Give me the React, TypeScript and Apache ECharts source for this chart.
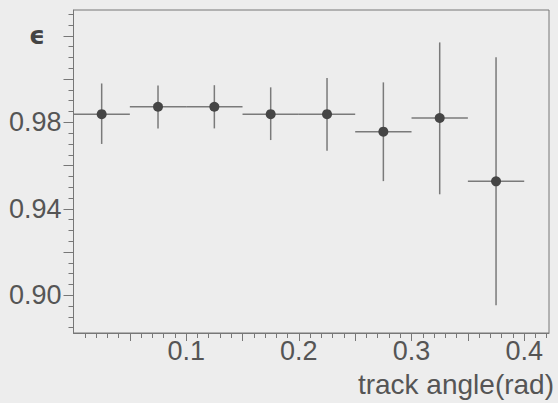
import React, { useEffect, useRef } from "react";
import * as echarts from "echarts";

// Bin edges (track angle, rad)
const binLow = [0.0, 0.05, 0.1, 0.15, 0.2, 0.25, 0.3, 0.35];
const binHigh = [0.05, 0.1, 0.15, 0.2, 0.25, 0.3, 0.35, 0.4];
const binCenter = [0.025, 0.075, 0.125, 0.175, 0.225, 0.275, 0.325, 0.375];
// Efficiency and error bar ends
const efficiency = [0.9838, 0.9872, 0.9872, 0.9838, 0.9838, 0.9757, 0.982, 0.9527];
const errHigh = [0.998, 0.997, 0.9972, 0.9962, 1.0005, 0.9985, 1.017, 1.0101];
const errLow = [0.970, 0.9772, 0.9772, 0.9718, 0.9669, 0.9528, 0.9467, 0.8954];

const yTickValues = [0.9, 0.92, 0.94, 0.96, 0.98, 1.0, 1.02];
const yLabelValues = [0.9, 0.94, 0.98];
const xTickValues = [0.05, 0.1, 0.15, 0.2, 0.25, 0.3, 0.35, 0.4];
const xLabelValues = [0.1, 0.2, 0.3, 0.4];

const xTitle = "track angle(rad)";
const yTitle = "ϵ";

export default function App() {
  const ref = useRef<HTMLDivElement>(null);
  useEffect(() => {
    document.body.style.margin = "0";
    const chart = echarts.init(ref.current!, null, { renderer: "svg" });
    const data = binCenter.map((c, i) => [c, efficiency[i], errLow[i], errHigh[i], binLow[i], binHigh[i]]);
    const textColor = "#555";
    const lineColor = "#777";
    chart.setOption({
      animation: false,
      backgroundColor: "#ededed",
      grid: {
        left: 73.5,
        right: 9,
        top: 10,
        bottom: 70,
        show: true,
        borderColor: lineColor,
        borderWidth: 1,
        backgroundColor: "transparent",
      },
      xAxis: {
        type: "value",
        min: 0,
        max: 0.422,
        interval: 0.05,
        axisLine: { show: true, lineStyle: { color: lineColor, width: 1 } },
        axisTick: { show: true, length: 8, customValues: xTickValues, lineStyle: { color: lineColor } },
        minorTick: { show: true, splitNumber: 5, length: 5, lineStyle: { color: lineColor } },
        splitLine: { show: false },
        axisLabel: {
          customValues: xLabelValues,
          formatter: (v: number) => String(Math.round(v * 10) / 10),
          color: textColor,
          fontFamily: "Liberation Sans",
          fontSize: 27,
          margin: 4,
        },
      },
      yAxis: {
        type: "value",
        min: 0.8825,
        max: 1.032,
        minInterval: 0.02,
        maxInterval: 0.02,
        axisLine: { show: true, lineStyle: { color: lineColor, width: 1 } },
        axisTick: { show: true, length: 10, customValues: yTickValues, lineStyle: { color: lineColor } },
        minorTick: { show: true, splitNumber: 4, length: 5, lineStyle: { color: lineColor } },
        splitLine: { show: false },
        axisLabel: {
          customValues: yLabelValues,
          formatter: (v: number) => v.toFixed(2),
          color: textColor,
          fontFamily: "Liberation Sans",
          fontSize: 27,
          margin: 12,
        },
      },
      graphic: [
        {
          type: "text",
          left: 29,
          top: 23,
          style: {
            text: yTitle,
            fill: "#444",
            font: "bold 25px 'DejaVu Sans'",
          },
        },
        {
          type: "text",
          right: 4,
          top: 370,
          style: {
            text: xTitle,
            fill: textColor,
            font: "28px 'Liberation Sans'",
          },
        },
      ],
      series: [
        {
          type: "custom",
          data,
          renderItem: (params: any, api: any) => {
            const x = api.value(0);
            const y = api.value(1);
            const lo = api.value(2);
            const hi = api.value(3);
            const xl = api.value(4);
            const xr = api.value(5);
            const p = api.coord([x, y]);
            const pl = api.coord([xl, y]);
            const pr = api.coord([xr, y]);
            const ph = api.coord([x, hi]);
            const plo = api.coord([x, lo]);
            const stroke = "#7a7a7a";
            return {
              type: "group",
              children: [
                { type: "line", shape: { x1: pl[0], y1: p[1], x2: pr[0], y2: p[1] }, style: { stroke, lineWidth: 1.5 } },
                { type: "line", shape: { x1: p[0], y1: ph[1], x2: p[0], y2: plo[1] }, style: { stroke, lineWidth: 1.5 } },
                { type: "circle", shape: { cx: p[0], cy: p[1], r: 5 }, style: { fill: "#454545" } },
              ],
            };
          },
        },
      ],
    });
    return () => chart.dispose();
  }, []);
  return <div ref={ref} style={{ position: "absolute", left: 0, top: 0, width: 558, height: 403 }} />;
}
